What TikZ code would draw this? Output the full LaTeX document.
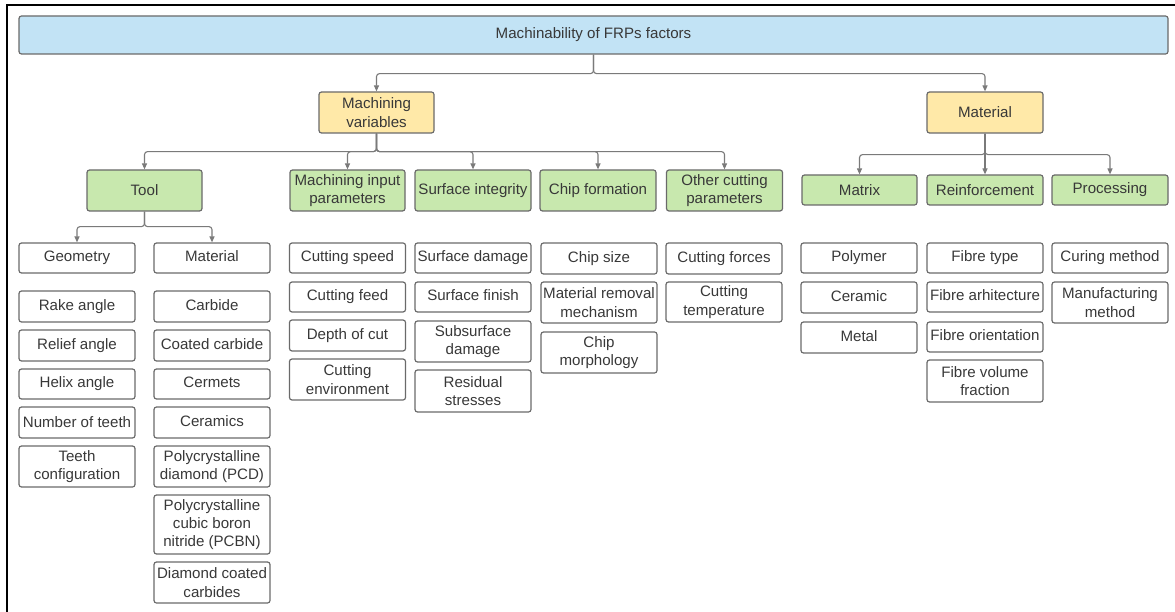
\documentclass[tikz,border=0pt]{standalone}
\usepackage{fontspec}
\setmainfont{Liberation Sans}
\usetikzlibrary{arrows.meta}
\definecolor{boxline}{HTML}{6A6A6A}
\definecolor{txt}{HTML}{383838}
\definecolor{conncol}{HTML}{7A7A7A}
\definecolor{bluefill}{HTML}{C2E3F5}
\definecolor{yellowfill}{HTML}{FFE9A8}
\definecolor{greenfill}{HTML}{C8E8AE}
\tikzset{
  box/.style={draw=boxline, line width=1.2pt, rounded corners=2.5pt, align=center,
    text=txt, inner sep=0pt, minimum width=116pt, minimum height=31pt,
    font=\fontsize{15.1}{18.3}\selectfont},
  blu/.style={box, fill=bluefill},
  yel/.style={box, fill=yellowfill, minimum height=41pt},
  grn/.style={box, fill=greenfill},
  conn/.style={draw=conncol, line width=1.1pt, rounded corners=3pt,
    -{Triangle[length=6pt,width=5pt]}},
}
\begin{document}
\begin{tikzpicture}[x=1pt,y=-1pt]
\useasboundingbox (0,0) rectangle (1175,612);
\draw[line width=2.5pt] (7,612) -- (7,5) -- (1175,5);

% level 1
\node[blu, minimum width=1149pt, minimum height=38pt] (top) at (593.5,35) {Machinability of FRPs factors};
% level 2
\node[yel, minimum width=115pt] (mv) at (376.5,112.5) {Machining\\variables};
\node[yel] (mat) at (985,112.5) {Material};
% level 3
\node[grn, minimum height=41pt, minimum width=115pt] (tool) at (144.5,190.5) {Tool};
\node[grn, minimum height=41pt, minimum width=115pt] (mip) at (347.5,190.5) {Machining input\\parameters};
\node[grn, minimum height=41pt] (si) at (473,190.5) {Surface integrity};
\node[grn, minimum height=41pt] (cf) at (598,190.5) {Chip formation};
\node[grn, minimum height=41pt] (oc) at (724.5,190.5) {Other cutting\\parameters};
\node[grn, minimum height=30pt, minimum width=115pt] (matrix) at (859.5,190) {Matrix};
\node[grn, minimum height=30pt] (reinf) at (985,190) {Reinforcement};
\node[grn, minimum height=30pt] (proc) at (1110,190) {Processing};

% tool children
\node[box, minimum height=30pt] (geo) at (77,258) {Geometry};
\node[box, minimum height=30pt] (tmat) at (212,258) {Material\vphantom{y}};

% column geometry
\node[box] (rake) at (77,306.5) {Rake angle};
\node[box] (relief) at (77,345.5) {Relief angle};
\node[box, minimum height=30pt] (helix) at (77,384) {Helix angle};
\node[box] (nteeth) at (77,422.5) {Number of teeth};
\node[box, minimum height=41pt] (tconf) at (77,466.5) {Teeth\\configuration};

% column material (tool)
\node[box] (carb) at (212,306.5) {Carbide\vphantom{y}};
\node[box] (ccarb) at (212,345.5) {Coated carbide\vphantom{y}};
\node[box, minimum height=30pt] (cerm) at (212,384) {Cermets\vphantom{y}};
\node[box] (ceram) at (212,422.5) {Ceramics\vphantom{y}};
\node[box, minimum height=41pt] (pcd) at (212,466.5) {Polycrystalline\\diamond (PCD)};
\node[box, minimum height=59pt] (pcbn) at (212,524.5) {Polycrystalline\\cubic boron\\nitride (PCBN)};
\node[box, minimum height=41pt] (dcc) at (212,582.5) {Diamond coated\\carbides};

% machining input column
\node[box, minimum height=30pt] (speed) at (347.5,258) {Cutting speed};
\node[box, minimum height=30pt] (feed) at (347.5,297) {Cutting feed};
\node[box] (depth) at (347.5,335.5) {Depth of cut};
\node[box, minimum height=41pt] (env) at (347.5,379.5) {Cutting\\environment};

% surface integrity column
\node[box, minimum height=30pt] (sdam) at (473,258) {Surface damage};
\node[box, minimum height=30pt] (sfin) at (473,297) {Surface finish\vphantom{y}};
\node[box, minimum height=41pt] (subs) at (473,341.5) {Subsurface\\damage};
\node[box, minimum height=42pt] (resid) at (473,391) {Residual\\stresses};

% chip formation column
\node[box] (csize) at (599,258.5) {Chip size};
\node[box, minimum height=41pt] (mrm) at (599,302.5) {Material removal\\mechanism};
\node[box, minimum height=41pt] (morph) at (599,352.5) {Chip\\morphology};

% other cutting column
\node[box] (cforces) at (724,258.5) {Cutting forces};
\node[box, minimum height=40pt] (ctemp) at (724,302) {Cutting\\temperature};

% matrix column
\node[box, minimum height=30pt] (poly) at (859,258) {Polymer};
\node[box] (cer) at (859,297.5) {Ceramic\vphantom{y}};
\node[box] (metal) at (859,337.5) {Metal\vphantom{y}};

% reinforcement column
\node[box, minimum height=30pt] (ftype) at (985,258) {Fibre type};
\node[box, minimum height=30pt] (farch) at (985,297) {Fibre arhitecture\vphantom{y}};
\node[box, minimum height=30pt] (forient) at (985,337) {Fibre orientation\vphantom{y}};
\node[box, minimum height=42pt] (fvol) at (985,381) {Fibre volume\\fraction};

% processing column
\node[box, minimum height=30pt] (curing) at (1110,258) {Curing method};
\node[box, minimum height=41pt] (manuf) at (1110,302.5) {Manufacturing\\method};

% connectors
\draw[conn] (top.south) -- ++(0,19) -| (mv.north);
\draw[conn] (top.south) -- ++(0,19) -| (mat.north);
\foreach \c in {tool,mip,si,cf,oc}{
  \draw[conn] (mv.south) -- ++(0,18) -| (\c.north);
}
\draw[conn] (mat.south) -- ++(0,21) -| (matrix.north);
\draw[conn] (mat.south) -- (reinf.north);
\draw[conn] (mat.south) -- ++(0,21) -| (proc.north);
\draw[conn] (tool.south) -- ++(0,15) -| (geo.north);
\draw[conn] (tool.south) -- ++(0,15) -| (tmat.north);
\end{tikzpicture}
\end{document}
